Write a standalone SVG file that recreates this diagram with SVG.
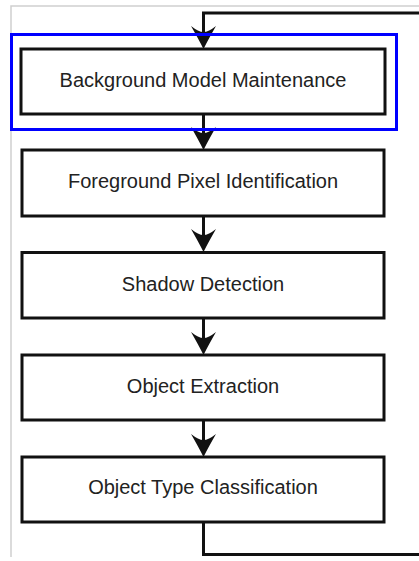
<svg xmlns="http://www.w3.org/2000/svg" width="419" height="561" viewBox="0 0 419 561">
<style>
.box{fill:#fff;stroke:#111;stroke-width:3}
.lbl{font-family:"Liberation Sans",Arial,sans-serif;font-size:20px;fill:#222;text-anchor:middle}
.ln{fill:none;stroke:#111;stroke-width:3}
.hd{fill:#111}
</style>
<defs>
<path id="ah" d="M0,0 Q-5,-10 -12.5,-23 Q-5,-17 0,-17 Q5,-17 12.5,-23 Q5,-10 0,0 Z"/>
</defs>
<rect width="419" height="561" fill="#fff"/>
<path d="M11,557 V6 H419" fill="none" stroke="#cfcfcf" stroke-width="1.5"/>
<g id="n1"><rect class="box" x="21" y="49" width="364" height="65"/><text class="lbl" x="203" y="87">Background Model Maintenance</text></g>
<g id="n2"><rect class="box" x="22" y="150" width="362" height="66"/><text class="lbl" x="203" y="188">Foreground Pixel Identification</text></g>
<g id="n3"><rect class="box" x="22" y="252.5" width="362" height="65.5"/><text class="lbl" x="203" y="291">Shadow Detection</text></g>
<g id="n4"><rect class="box" x="22" y="355" width="362" height="65"/><text class="lbl" x="203" y="393">Object Extraction</text></g>
<g id="n5"><rect class="box" x="22" y="457" width="362" height="65"/><text class="lbl" x="203" y="494">Object Type Classification</text></g>
<g id="connectors">
<path class="ln" d="M419,13 H203.5 V36"/>
<use href="#ah" class="hd" x="203.5" y="49"/>
<path class="ln" d="M203.5,114 V137"/>
<use href="#ah" class="hd" x="203.5" y="150"/>
<path class="ln" d="M203.5,216 V239"/>
<use href="#ah" class="hd" x="203.5" y="252"/>
<path class="ln" d="M203.5,318 V342"/>
<use href="#ah" class="hd" x="203.5" y="355"/>
<path class="ln" d="M203.5,420 V444"/>
<use href="#ah" class="hd" x="203.5" y="457"/>
<path class="ln" d="M203.5,522 V554.5 H419"/>
</g>
<g id="highlight"><rect x="11.5" y="34.5" width="385" height="95" fill="none" stroke="#0000ff" stroke-width="3"/></g>
</svg>
